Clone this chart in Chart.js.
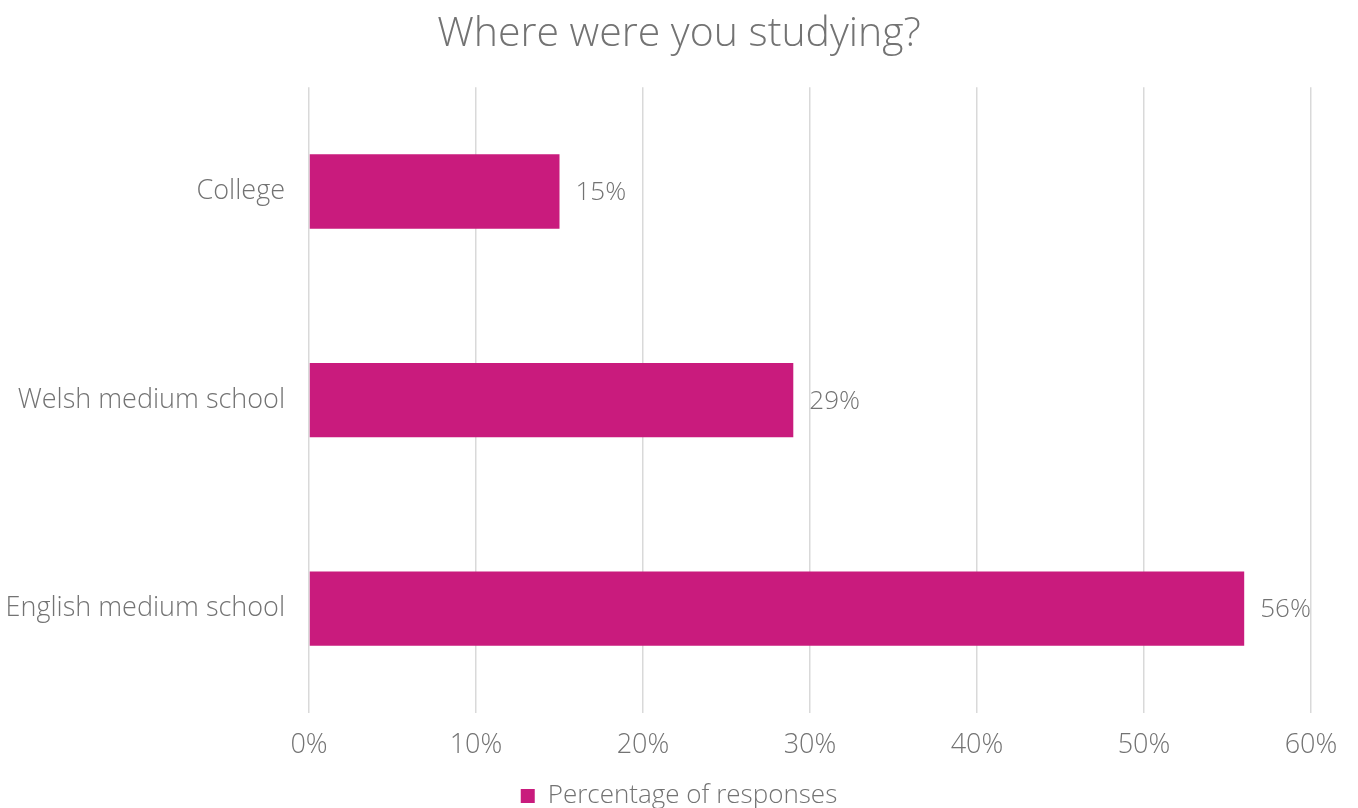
<!DOCTYPE html>
<html>
<head>
<meta charset="utf-8">
<script src="https://cdn.jsdelivr.net/npm/chart.js@4.4.1/dist/chart.umd.min.js"></script>
<style>
  html, body { margin: 0; padding: 0; background: #ffffff; }
  #wrap { width: 1358px; height: 808px; }
</style>
</head>
<body>
<div id="wrap"><canvas id="chart" width="1358" height="808"></canvas></div>
<script>
const categories = ['College', 'Welsh medium school', 'English medium school'];
const responses = [15, 29, 56];
const tickValues = [0, 10, 20, 30, 40, 50, 60];
const seriesName = 'Percentage of responses';
const chartTitle = 'Where were you studying?';

const FONT = '"Open Sans", sans-serif';
const GREY = '#737373';
const BAR = '#C91B7D';

// writes the percentage just past the end of each bar
const valueLabels = {
  id: 'valueLabels',
  afterDatasetsDraw(chart) {
    const ctx = chart.ctx;
    const meta = chart.getDatasetMeta(0);
    ctx.save();
    ctx.font = '300 26px ' + FONT;
    ctx.fillStyle = GREY;
    ctx.textAlign = 'left';
    ctx.textBaseline = 'middle';
    meta.data.forEach((bar, i) => {
      ctx.fillText(responses[i] + '%', bar.x + 16, bar.y + 1);
    });
    ctx.restore();
  }
};

new Chart(document.getElementById('chart'), {
  type: 'bar',
  data: {
    labels: categories,
    datasets: [{
      label: seriesName,
      data: responses,
      backgroundColor: BAR,
      borderWidth: 0,
      categoryPercentage: 1,
      barPercentage: 0.356
    }]
  },
  options: {
    indexAxis: 'y',
    responsive: false,
    animation: false,
    layout: { padding: { left: 0, right: 0, top: 0, bottom: -11 } },
    plugins: {
      title: {
        display: true,
        text: chartTitle,
        color: GREY,
        font: { family: FONT, size: 41, weight: '300' },
        padding: { top: 10, bottom: 28 }
      },
      legend: {
        position: 'bottom',
        labels: {
          color: GREY,
          font: { family: FONT, size: 26, weight: '300' },
          boxWidth: 14,
          boxHeight: 14,
          padding: 0
        }
      },
      tooltip: { enabled: false }
    },
    scales: {
      x: {
        min: 0,
        max: 60,
        afterBuildTicks(axis) { axis.ticks = tickValues.map(v => ({ value: v })); },
        afterFit(axis) {
          axis.height = 70;
          axis.paddingRight = 47;
        },
        grid: { color: '#d9d9d9', lineWidth: 1.5, drawTicks: false },
        border: { display: false },
        ticks: {
          color: GREY,
          font: { family: FONT, size: 27, weight: '300' },
          padding: 16,
          callback: v => v + '%'
        }
      },
      y: {
        afterFit(axis) { axis.width = 309; },
        grid: { display: false, drawTicks: false },
        border: { display: false },
        ticks: {
          color: GREY,
          font: { family: FONT, size: 27, weight: '300' },
          padding: 24
        }
      }
    }
  },
  plugins: [valueLabels]
});
</script>
</body>
</html>
